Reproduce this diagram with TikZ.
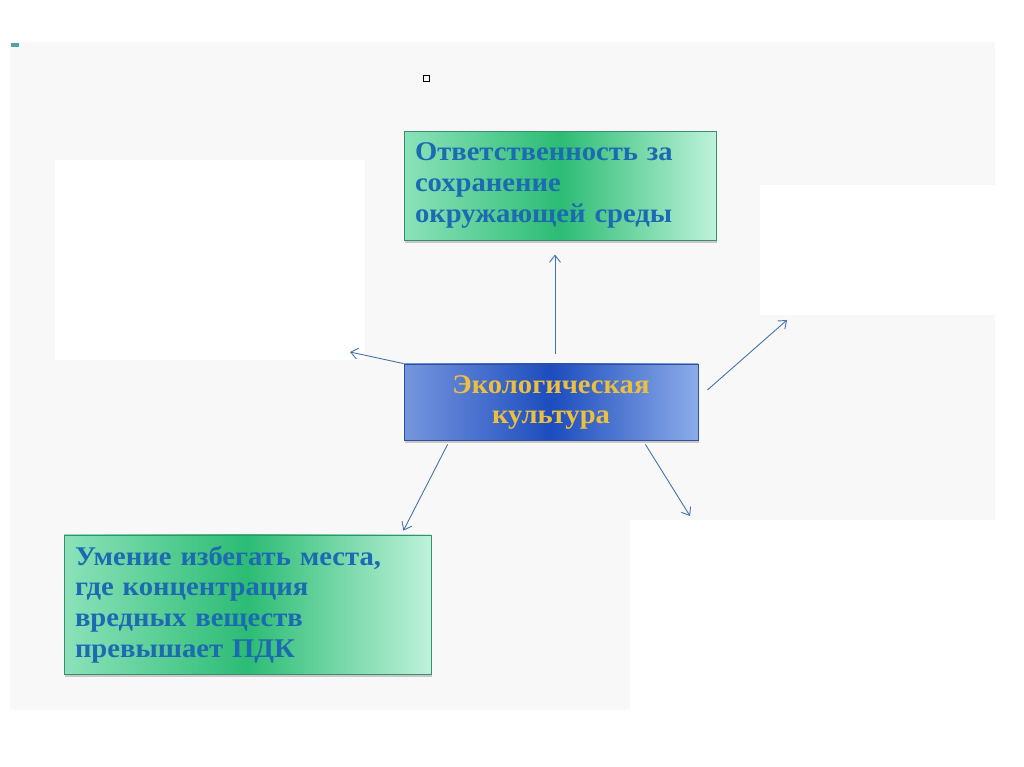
\documentclass[tikz,border=0pt]{standalone}
\usepackage{fontspec}
\setmainfont{Liberation Serif}[FakeStretch=1.06]
\usepackage{tikz}
\usetikzlibrary{
  arrows.meta, positioning, shadows
}
\usepackage{xcolor}
\definecolor{mintL}{RGB}{140,226,186}
\definecolor{mintM}{RGB}{44,188,116}
\definecolor{mintR}{RGB}{190,242,218}
\definecolor{mintEdge}{RGB}{60,140,110}
\definecolor{royL}{RGB}{118,150,222}
\definecolor{royM}{RGB}{28,76,190}
\definecolor{royR}{RGB}{140,172,232}
\definecolor{royEdge}{RGB}{50,80,150}
\definecolor{inkBlue}{RGB}{28,106,178}
\definecolor{gold}{RGB}{236,192,62}
\definecolor{linkBlue}{RGB}{70,115,170}
\definecolor{slide}{RGB}{248,248,249}
\tikzset{
  idea/.style={
    rectangle, draw=mintEdge, line width=0.8pt,
    left color=mintL, right color=mintR, middle color=mintM,
    drop shadow={shadow xshift=1pt, shadow yshift=-3pt, opacity=0.4},
    inner xsep=11pt, align=left, text=inkBlue,
    font=\fontsize{27}{30.8}\selectfont\bfseries
  },
  core/.style={
    rectangle, draw=royEdge, line width=0.8pt,
    left color=royL, right color=royR, middle color=royM,
    drop shadow={shadow xshift=1pt, shadow yshift=-3pt, opacity=0.4},
    minimum width=294pt, minimum height=76pt,
    align=center, text=gold,
    font=\fontsize{27}{30}\selectfont\bfseries
  },
  link/.style={-{Straight Barb[length=7pt, width=11pt]}, line width=0.9pt, draw=linkBlue}
}
\begin{document}
\begin{tikzpicture}[x=1pt, y=1pt]
  \useasboundingbox (0,0) rectangle (1024,767);
  \fill[white] (0,0) rectangle (1024,767);
  \fill[slide] (10,57) rectangle (995,725);
  \fill[white] (55,407) rectangle (365,607);
  \fill[white] (760,452) rectangle (995,582);
  \fill[white] (630,57) rectangle (995,247);
  \fill[teal!70] (11,720) rectangle (19,724);

  \node[draw, line width=0.8pt, minimum size=6pt, inner sep=0pt] (mark) at (426,689) {};

  \node[core] (eco) at (551,365) {Экологическая\\культура};
  \node[idea, text width=290pt, minimum height=109pt, above=123pt of eco, xshift=9pt]
    (resp) {Ответственность за\\сохранение\\окружающей среды};
  \node[idea, text width=345pt, minimum height=139pt, anchor=center]
    (pdk) at (247.5,162.5) {Умение избегать места,\\где концентрация\\вредных веществ\\превышает ПДК};

  \coordinate (upx) at (555,0);
  \coordinate (lt) at (350,415);
  \coordinate (rt) at (787,447);
  \coordinate (dr) at (690,251);

  \draw[link, shorten <=10pt, shorten >=14pt] (eco.north -| upx) -- (resp.south -| upx);
  \draw[link] (eco.north west) -- (lt);
  \draw[link] ([shift={(9pt,12pt)}]eco.east) -- (rt);
  \draw[link] ([shift={(44pt,-4pt)}]eco.south west) -- ([shift={(-28pt,4pt)}]pdk.north east);
  \draw[link] ([shift={(-53pt,-4pt)}]eco.south east) -- (dr);
\end{tikzpicture}
\end{document}
